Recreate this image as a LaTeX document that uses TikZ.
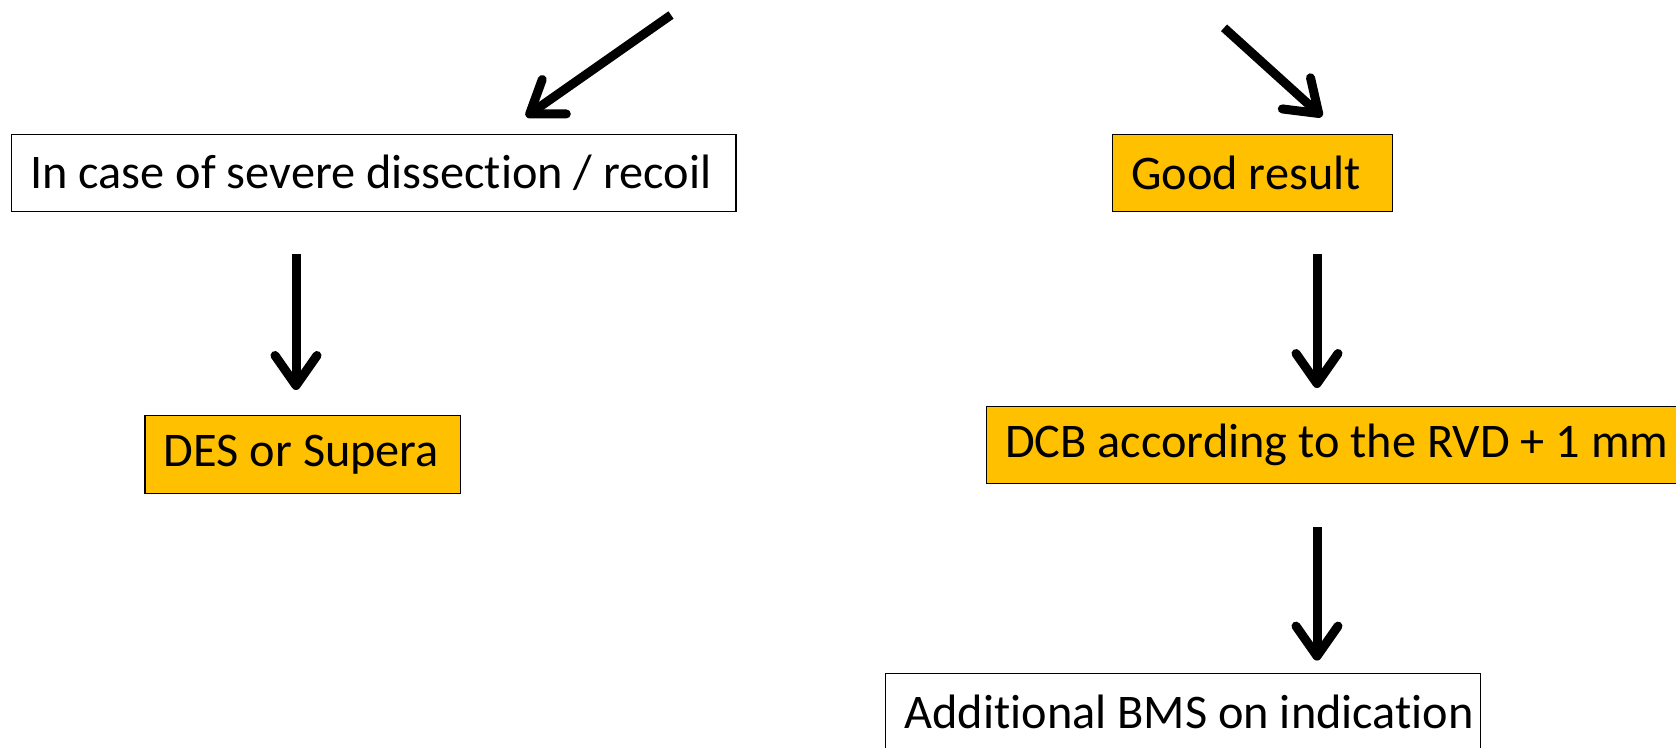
\documentclass[tikz,border=0pt]{standalone}
\usepackage{fontspec}
\setmainfont{Carlito}[Ligatures=NoCommon]
\usetikzlibrary{arrows.meta}
\definecolor{boxorange}{HTML}{FFC000}
\tikzset{
  flowbox/.style={draw=black, line width=1.3pt, anchor=north west, inner xsep=19pt, inner ysep=0pt,
    align=flush left, font=\fontsize{48.3}{58}\selectfont},
  plainbox/.style={flowbox, fill=white},
  orangebox/.style={flowbox, fill=boxorange},
  bigarrow/.style={line width=9pt, -{Straight Barb[length=30pt, width=42pt, round]}}
}
\begin{document}
\begin{tikzpicture}[x=1pt, y=-1pt]
\useasboundingbox (0,0) rectangle (1676,747);
\node[plainbox, text width=686.7pt, minimum height=77pt] (sev) at (10.7,133.6) {\mbox{In case of severe dissection / recoil}};
\node[orangebox, text width=242.1pt, minimum height=77pt] (good) at (1111.6,133.6) {\mbox{Good result}};
\node[orangebox, text width=277.3pt, minimum height=78pt] (des) at (144.3,414.7) {\mbox{DES or Supera}};
\node[orangebox, text width=700pt, minimum height=77pt] (dcb) at (985.5,406) {\mbox{DCB according to the RVD + 1 mm}};
\node[plainbox, text width=557pt, minimum height=77pt] (bms) at (885,673) {\mbox{Additional BMS on indication}};

\coordinate (s1) at (671,15);
\coordinate (t1) at (526,116.5);
\coordinate (s2) at (1224,27.8);
\coordinate (t2) at (1322,116.5);
\coordinate (s3) at (296,254);
\coordinate (t3) at (296,390);
\coordinate (s4) at (1317,254);
\coordinate (t4) at (1317,388);
\coordinate (s5) at (1317,527);
\coordinate (t5) at (1317,660.6);

\draw[bigarrow] (s1) -- (t1);
\draw[bigarrow] (s2) -- (t2);
\draw[bigarrow] (s3) -- (t3);
\draw[bigarrow] (s4) -- (t4);
\draw[bigarrow] (s5) -- (t5);
\end{tikzpicture}
\end{document}
